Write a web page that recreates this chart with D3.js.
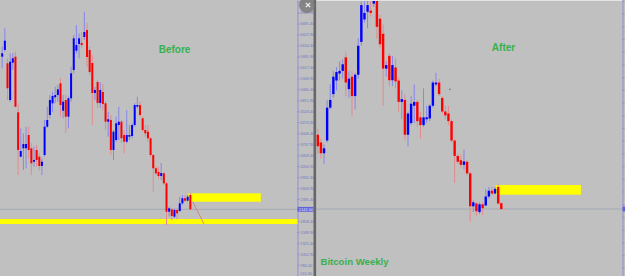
<!DOCTYPE html>
<html><head><meta charset="utf-8">
<script src="https://cdn.jsdelivr.net/npm/d3@7"></script>
<style>html,body{margin:0;padding:0;background:#c0c0c0;overflow:hidden}</style>
</head><body><svg id="c" width="625" height="276"></svg>
<script>
// Weekly candles (index 0..72). Left "Before" panel shows 0..71, right "After" panel shows 12..72.
const openP = [5881,6045,5719,4820,5734,5881,4519,3431,3637,3637,
  3962,3637,3308,3595,3431,3203,3472,4166,4452,4739,
  4886,4942,5229,4558,4820,4411,4862,5555,6028,6192,
  6216,6363,6535,6045,5726,4991,5261,4746,5016,4739,
  4288,4330,3595,3840,4207,4288,3962,3798,3921,3938,
  4207,4656,4697,4372,4085,4043,3882,3472,3147,3056,
  2958,3024,2779,2083,2142,1961,2125,2100,2289,2412,
  2353,2492,2149];
const highP = [6126,6577,5842,5964,5964,6003,4739,4127,4004,4166,
  4166,3759,3676,3718,3514,3392,4330,4656,4942,5023,
  5146,5187,5352,4942,4942,4901,5636,6412,6650,6454,
  6493,6983,6706,6126,5922,5146,5310,5261,5212,4795,
  4533,4452,4085,4411,4656,4330,4085,4575,4207,4249,
  4739,4901,4778,4411,4207,4207,3921,3497,3203,3178,
  3276,3056,2811,2206,2167,2167,2167,2451,2492,2492,
  2492,2549,2162];
const lowP = [5597,6003,4820,4778,5555,4641,2983,3416,3105,3147,
  3392,2983,3186,3186,3088,2983,3431,4127,4372,4533,
  4739,4778,4411,4372,4004,4127,4778,5474,5964,5842,
  6087,6290,5628,5432,4207,4820,4624,4624,4575,4085,
  3921,3472,3350,3798,3840,3759,3514,3759,3840,3882,
  4166,4617,4411,4043,3921,3798,3431,2573,2983,2884,
  2860,2737,1757,1961,1880,1922,1897,2083,2247,2321,
  2328,2125,2002];
const closeP = [5964,6273,5107,5758,5842,4656,3595,3570,3742,3742,
  3595,3269,3350,3350,3203,3308,4166,4330,4820,4918,
  4942,5082,4697,4778,4411,4862,5474,6332,6167,6332,
  6167,6486,5873,5506,4991,5065,4746,5065,4722,4288,
  4347,3595,4043,4249,4288,3882,3798,3962,3962,4207,
  4697,4697,4452,4085,4004,3882,3472,3147,3024,2958,
  3031,2779,2083,2167,1978,2125,2044,2289,2412,2353,
  2451,2142,2025];
const beforeLast = 71;
const afterLast = 72;

// Price-axis tick labels
const tickVals = [7228.40,6959.90,6691.40,6422.90,6154.40,5885.90,5617.40,5348.90,5080.40,4811.90,
  4543.40,4274.90,4006.40,3737.90,3469.40,3200.90,2932.40,2663.90,2395.40,2126.90,
  1858.40,1589.90,1321.40,1052.90,784.40,515.90];

// Drawn zones (price / week index)
const resistZone = {i0:70.2, i1:97.6, top:2533, bottom:2328};
const supportBand = {top:1905, bottom:1782};
const projection = [{i:71.9, p:2330},{i:76.2, p:1775}];
const titles = {before:"Before", after:"After", footer:"Bitcoin Weekly"};

const svg = d3.select('#c');
svg.append('rect').attr('width',625).attr('height',276).attr('fill','#c0c0c0');
const defs = svg.append('defs');
defs.append('clipPath').attr('id','cl').append('rect').attr('x',0).attr('y',0).attr('width',297).attr('height',276);
defs.append('clipPath').attr('id','cr').append('rect').attr('x',316).attr('y',0).attr('width',306).attr('height',276);

const xL = d3.scaleLinear().domain([0,71]).range([2.2,190.35]);
const yL = d3.scaleLinear().domain([508,7270]).range([276,0]);
const xR = d3.scaleLinear().domain([62,72]).range([470.2,501.3]);
const yR = d3.scaleLinear().domain([611,6440]).range([276,0]);

const BLUE='#0000ff', RED='#ff0000', BW='#8686ec', RW='#e48a8a';

function candles(g, n0, n1, x, y, bw){
  const idx = d3.range(n0, n1+1);
  g.selectAll('line.w').data(idx).join('line').attr('class','w')
    .attr('x1',i=>x(i)).attr('x2',i=>x(i))
    .attr('y1',i=>y(highP[i])).attr('y2',i=>y(lowP[i]))
    .attr('stroke',i=>closeP[i]>=openP[i]?BW:RW).attr('stroke-width',1);
  g.selectAll('rect.b').data(idx).join('rect').attr('class','b')
    .attr('x',i=>x(i)-bw/2).attr('width',bw)
    .attr('y',i=>y(Math.max(openP[i],closeP[i])))
    .attr('height',i=>Math.max(1,Math.abs(y(openP[i])-y(closeP[i]))))
    .attr('fill',i=>closeP[i]>=openP[i]?BLUE:RED);
}

// ---- Left panel (Before)
const gl = svg.append('g').attr('clip-path','url(#cl)');
gl.append('rect').attr('x',0).attr('width',297)
  .attr('y',yL(supportBand.top)).attr('height',yL(supportBand.bottom)-yL(supportBand.top)).attr('fill','#ffff00');
gl.append('line').attr('x1',0).attr('x2',297).attr('y1',yL(closeP[beforeLast])).attr('y2',yL(closeP[beforeLast]))
  .attr('stroke','#a2a9b2').attr('stroke-width',1);
gl.append('rect').attr('x',xL(resistZone.i0)).attr('width',xL(resistZone.i1)-xL(resistZone.i0))
  .attr('y',yL(resistZone.top)).attr('height',yL(resistZone.bottom)-yL(resistZone.top)).attr('fill','#ffff00');
candles(gl.append('g'),0,beforeLast,xL,yL,2);
gl.append('line').attr('x1',xL(projection[0].i)).attr('y1',yL(projection[0].p))
  .attr('x2',xL(projection[1].i)).attr('y2',yL(projection[1].p)).attr('stroke','#e07070').attr('stroke-width',0.8);

// ---- Right panel (After)
const gr = svg.append('g').attr('clip-path','url(#cr)');
gr.append('line').attr('x1',316).attr('x2',622).attr('y1',yR(closeP[afterLast])).attr('y2',yR(closeP[afterLast]))
  .attr('stroke','#a2a9b2').attr('stroke-width',1);
gr.append('rect').attr('x',xR(resistZone.i0)).attr('width',xR(resistZone.i1)-xR(resistZone.i0))
  .attr('y',yR(resistZone.top)).attr('height',yR(resistZone.bottom)-yR(resistZone.top)).attr('fill','#ffff00');
candles(gr.append('g'),12,afterLast,xR,yR,2.4);
gr.append('rect').attr('x',xR(55.5)-0.6).attr('y',yR(4554)-0.6).attr('width',1.2).attr('height',1.2).attr('fill','#555');
gr.append('rect').attr('x',316).attr('y',0).attr('width',306).attr('height',1).attr('fill','#e4e4e4');

// ---- Axes
function styleAxis(g){
  g.select('.domain').attr('stroke','#8f8fd2');
  g.selectAll('.tick line').attr('stroke','#8f8fd2');
  g.selectAll('.tick text').attr('fill','#7474c4').attr('font-size',3.9).attr('font-family','Liberation Sans, Arial, sans-serif');
}
const axLg = svg.append('g').attr('transform','translate(297.5,0)')
  .call(d3.axisRight(yL).tickValues(tickVals).tickSize(2).tickSizeOuter(0).tickPadding(0.8).tickFormat(d=>d.toFixed(2)))
  .call(styleAxis);
// keep the edge labels inside the picture
axLg.selectAll('.tick text').attr('dy', d => {
  const yy = yL(d);
  if (yy < 2.5) return (2.5 - yy + 1.3) + 'px';
  if (yy > 273.5) return (273.5 - yy + 1.3) + 'px';
  return '1.3px';
});
svg.append('g').attr('transform','translate(622.5,0)')
  .call(d3.axisRight(yR).tickValues(tickVals).tickSize(2).tickSizeOuter(0).tickFormat(''))
  .call(styleAxis);

// current price markers
svg.append('rect').attr('x',297.5).attr('y',yL(closeP[beforeLast])-2.4).attr('width',16).attr('height',4.8).attr('fill','#6262d8');
svg.append('text').attr('x',299).attr('y',yL(closeP[beforeLast])+1.4).attr('font-size',3.9)
  .attr('font-family','Liberation Sans, Arial, sans-serif').attr('fill','#e8e8ff').text(closeP[beforeLast].toFixed(2));
svg.append('rect').attr('x',622.5).attr('y',yR(closeP[afterLast])-2.4).attr('width',3).attr('height',4.8).attr('fill','#6262d8');
// yellow marker on left axis for support band
svg.append('rect').attr('x',290).attr('width',7.5).attr('y',yL(supportBand.top)).attr('height',yL(supportBand.bottom)-yL(supportBand.top)).attr('fill','#ffff00');

// separator and close button (the cross is drawn as two strokes)
svg.append('rect').attr('x',313.5).attr('y',0).attr('width',2.6).attr('height',276).attr('fill','#666');
svg.append('circle').attr('cx',307).attr('cy',5).attr('r',8).attr('fill','#7a7a7a').attr('opacity',0.85);
const cx0 = 308, cy0 = 5, s = 2.2;
svg.append('path').attr('d',`M${cx0-s},${cy0-s}L${cx0+s},${cy0+s}M${cx0+s},${cy0-s}L${cx0-s},${cy0+s}`)
  .attr('stroke','#f2f2f2').attr('stroke-width',1.2).attr('fill','none');

// titles
const GREEN='#37b04e';
svg.append('text').attr('x',174.5).attr('y',53).attr('text-anchor','middle').attr('font-size',10).attr('font-weight','bold')
  .attr('font-family','Liberation Sans, Arial, sans-serif').attr('fill',GREEN).text(titles.before);
svg.append('text').attr('x',503.5).attr('y',51).attr('text-anchor','middle').attr('font-size',10).attr('font-weight','bold')
  .attr('font-family','Liberation Sans, Arial, sans-serif').attr('fill',GREEN).text(titles.after);
svg.append('text').attr('x',320.5).attr('y',265).attr('font-size',9.6).attr('font-weight','bold')
  .attr('font-family','Liberation Sans, Arial, sans-serif').attr('fill',GREEN).text(titles.footer);
</script>
</body></html>
